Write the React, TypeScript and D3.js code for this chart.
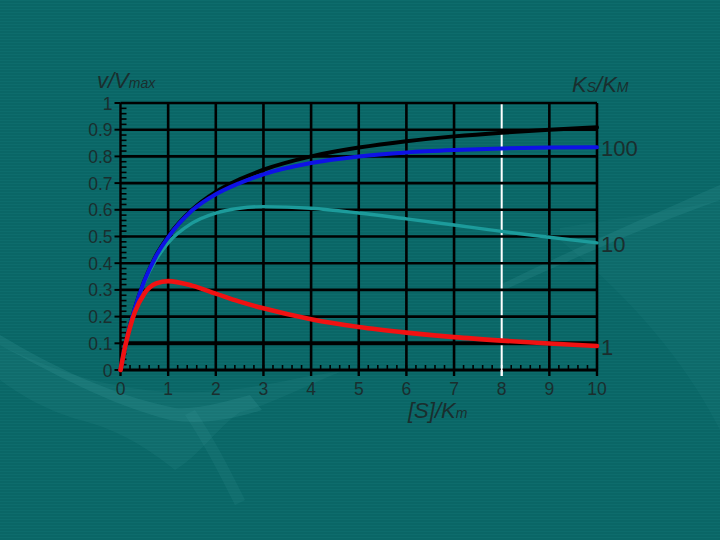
import React, { useEffect, useRef } from 'react';
import * as d3 from 'd3';

// substrate concentration [S]/Km sampled along the curves
const sValues = [0, 0.1, 0.2, 0.3, 0.5, 0.75, 1, 1.5, 2, 2.5, 3, 4, 5, 6, 7, 8, 9, 10];
// no inhibition (black)
const noInhib = [0, 0.09, 0.167, 0.23, 0.333, 0.43, 0.5, 0.6, 0.667, 0.714, 0.75, 0.8, 0.833, 0.857, 0.875, 0.889, 0.9, 0.909];
// Ks/Km = 100 (blue)
const ks100 = [0, 0.091, 0.167, 0.23, 0.333, 0.428, 0.497, 0.597, 0.658, 0.7, 0.733, 0.775, 0.8, 0.815, 0.824, 0.83, 0.833, 0.834];
// Ks/Km = 10 (teal)
const ks10 = [0, 0.091, 0.166, 0.229, 0.328, 0.415, 0.476, 0.55, 0.588, 0.606, 0.612, 0.606, 0.588, 0.566, 0.543, 0.519, 0.497, 0.476];
// Ks/Km = 1 (red)
const ks1 = [0, 0.09, 0.161, 0.216, 0.286, 0.324, 0.333, 0.316, 0.286, 0.256, 0.231, 0.19, 0.161, 0.14, 0.123, 0.11, 0.099, 0.09];

const xTicks = [0, 1, 2, 3, 4, 5, 6, 7, 8, 9, 10];
const yTicks = [0, 0.1, 0.2, 0.3, 0.4, 0.5, 0.6, 0.7, 0.8, 0.9, 1];
const curveLabels = ['100', '10', '1'];

function App() {
    const svgRef = useRef<SVGSVGElement>(null);

    useEffect(() => {
        const svg = d3.select(svgRef.current);
        svg.selectAll('*').remove();

        const width = 720;
        const height = 540;
        const font = 'Liberation Sans, Arial, sans-serif';
        const textCol = '#1a2e2e';

        const x = d3.scaleLinear().domain([0, 10]).range([120.5, 597]);
        const y = d3.scaleLinear().domain([0, 1]).range([370, 103]);

        // background with faint scanlines
        const defs = svg.append('defs');
        const pat = defs.append('pattern')
            .attr('id', 'scan').attr('width', 4).attr('height', 3)
            .attr('patternUnits', 'userSpaceOnUse');
        pat.append('rect').attr('width', 4).attr('height', 3).attr('fill', '#0a6666');
        pat.append('rect').attr('width', 4).attr('height', 1).attr('fill', '#0d6c6c');
        svg.append('rect').attr('width', width).attr('height', height).attr('fill', 'url(#scan)');

        // decorative swooshes (faint hand in the background)
        const deco = svg.append('g').attr('fill', '#4aa8a8');
        deco.append('path')
            .attr('d', 'M0,345 C50,370 120,395 200,392 C260,390 300,375 340,372 C300,388 270,405 240,412 C215,430 200,455 175,470 C150,450 120,430 80,420 C50,412 20,395 0,380 Z')
            .attr('opacity', 0.1);
        deco.append('path')
            .attr('d', 'M0,335 C50,365 110,395 175,408 C200,410 230,400 250,395 L262,410 C230,420 200,425 170,420 C110,405 50,372 0,345 Z')
            .attr('opacity', 0.18);
        deco.append('path')
            .attr('d', 'M195,410 C215,440 230,470 245,500 L235,505 C220,475 205,445 185,415 Z')
            .attr('opacity', 0.12);
        deco.append('path')
            .attr('d', 'M500,285 C560,255 640,220 720,185 L720,200 C650,225 580,255 500,292 Z')
            .attr('opacity', 0.16);
        deco.append('path')
            .attr('d', 'M560,228 C620,218 680,210 720,200 L720,430 C690,370 640,305 560,240 Z')
            .attr('opacity', 0.07);

        // grid
        const grid = svg.append('g');
        xTicks.filter(d => d > 0).forEach(d => {
            grid.append('line')
                .attr('x1', x(d)).attr('x2', x(d))
                .attr('y1', y(0)).attr('y2', y(1))
                .attr('stroke', d === 8 ? '#ffffff' : '#000')
                .attr('stroke-width', d === 8 ? 2 : 2.6);
        });
        yTicks.filter(d => d > 0).forEach(d => {
            grid.append('line')
                .attr('x1', x(0)).attr('x2', x(10))
                .attr('y1', y(d)).attr('y2', y(d))
                .attr('stroke', '#000')
                .attr('stroke-width', Math.abs(d - 0.1) < 1e-6 ? 4 : 2.6);
        });

        // left axis
        svg.append('line')
            .attr('x1', x(0)).attr('x2', x(0)).attr('y1', y(0)).attr('y2', y(1))
            .attr('stroke', '#000').attr('stroke-width', 2.4);
        d3.range(0, 50).forEach(i => {
            const v = i * 0.02;
            svg.append('line')
                .attr('x1', x(0)).attr('x2', x(0) + 6)
                .attr('y1', y(v)).attr('y2', y(v))
                .attr('stroke', '#000').attr('stroke-width', 1.6);
        });
        yTicks.forEach(d => {
            svg.append('line')
                .attr('x1', x(0) - 6).attr('x2', x(0))
                .attr('y1', y(d)).attr('y2', y(d))
                .attr('stroke', '#000').attr('stroke-width', 2);
            svg.append('text')
                .attr('x', x(0) - 8).attr('y', y(d) + 6.5)
                .attr('text-anchor', 'end')
                .attr('font-family', font).attr('font-size', 17.5)
                .attr('fill', textCol)
                .text(d === 0 ? '0' : d === 1 ? '1' : d3.format('.1f')(d));
        });

        // bottom axis
        svg.append('line')
            .attr('x1', x(0)).attr('x2', x(10)).attr('y1', y(0)).attr('y2', y(0))
            .attr('stroke', '#000').attr('stroke-width', 3);
        d3.range(0, 51).forEach(i => {
            const v = i * 0.2;
            svg.append('line')
                .attr('x1', x(v)).attr('x2', x(v))
                .attr('y1', y(0)).attr('y2', y(0) - 5)
                .attr('stroke', v > 7.9 && v < 8.1 ? '#fff' : '#000').attr('stroke-width', 1.6);
        });
        xTicks.forEach(d => {
            svg.append('line')
                .attr('x1', x(d)).attr('x2', x(d))
                .attr('y1', y(0)).attr('y2', y(0) + 6)
                .attr('stroke', d === 8 ? '#fff' : '#000').attr('stroke-width', 2.4);
            svg.append('text')
                .attr('x', x(d)).attr('y', 395)
                .attr('text-anchor', 'middle')
                .attr('font-family', font).attr('font-size', 17.5)
                .attr('fill', textCol)
                .text(d);
        });

        // curves
        const line = d3.line<number>()
            .x((_, i) => x(sValues[i]))
            .y(d => y(d))
            .curve(d3.curveMonotoneX);
        const series: [number[], string, number][] = [
            [noInhib, '#000000', 4],
            [ks10, '#1c9b9b', 3.4],
            [ks100, '#0e12e6', 4],
            [ks1, '#f01212', 4.6],
        ];
        series.forEach(([vals, col, w]) => {
            svg.append('path')
                .attr('d', line(vals))
                .attr('fill', 'none')
                .attr('stroke', col)
                .attr('stroke-width', w)
                .attr('stroke-linecap', 'round');
        });

        // curve labels on the right
        const lastVals = [ks100[ks100.length - 1], ks10[ks10.length - 1], ks1[ks1.length - 1]];
        curveLabels.forEach((t, i) => {
            svg.append('text')
                .attr('x', 601).attr('y', y(lastVals[i]) + 9)
                .attr('font-family', font).attr('font-size', 22)
                .attr('fill', textCol)
                .text(t);
        });

        // axis titles
        const yt = svg.append('text')
            .attr('x', 97).attr('y', 88)
            .attr('font-family', font).attr('font-style', 'italic')
            .attr('fill', textCol);
        yt.append('tspan').attr('font-size', 22).text('v/V');
        yt.append('tspan').attr('font-size', 14).text('max');

        const kt = svg.append('text')
            .attr('x', 572).attr('y', 92)
            .attr('font-family', font).attr('font-style', 'italic')
            .attr('fill', textCol);
        kt.append('tspan').attr('font-size', 22).text('K');
        kt.append('tspan').attr('font-size', 14).text('S');
        kt.append('tspan').attr('font-size', 22).text('/K');
        kt.append('tspan').attr('font-size', 14).text('M');

        const xt = svg.append('text')
            .attr('x', 408).attr('y', 418)
            .attr('font-family', font).attr('font-style', 'italic')
            .attr('fill', textCol);
        xt.append('tspan').attr('font-size', 22).text('[S]/K');
        xt.append('tspan').attr('font-size', 14).text('m');
    }, []);

    return (
        <svg
            ref={svgRef}
            width={720}
            height={540}
            style={{ position: 'absolute', left: 0, top: 0, display: 'block' }}
        ></svg>
    );
}

export default App;
